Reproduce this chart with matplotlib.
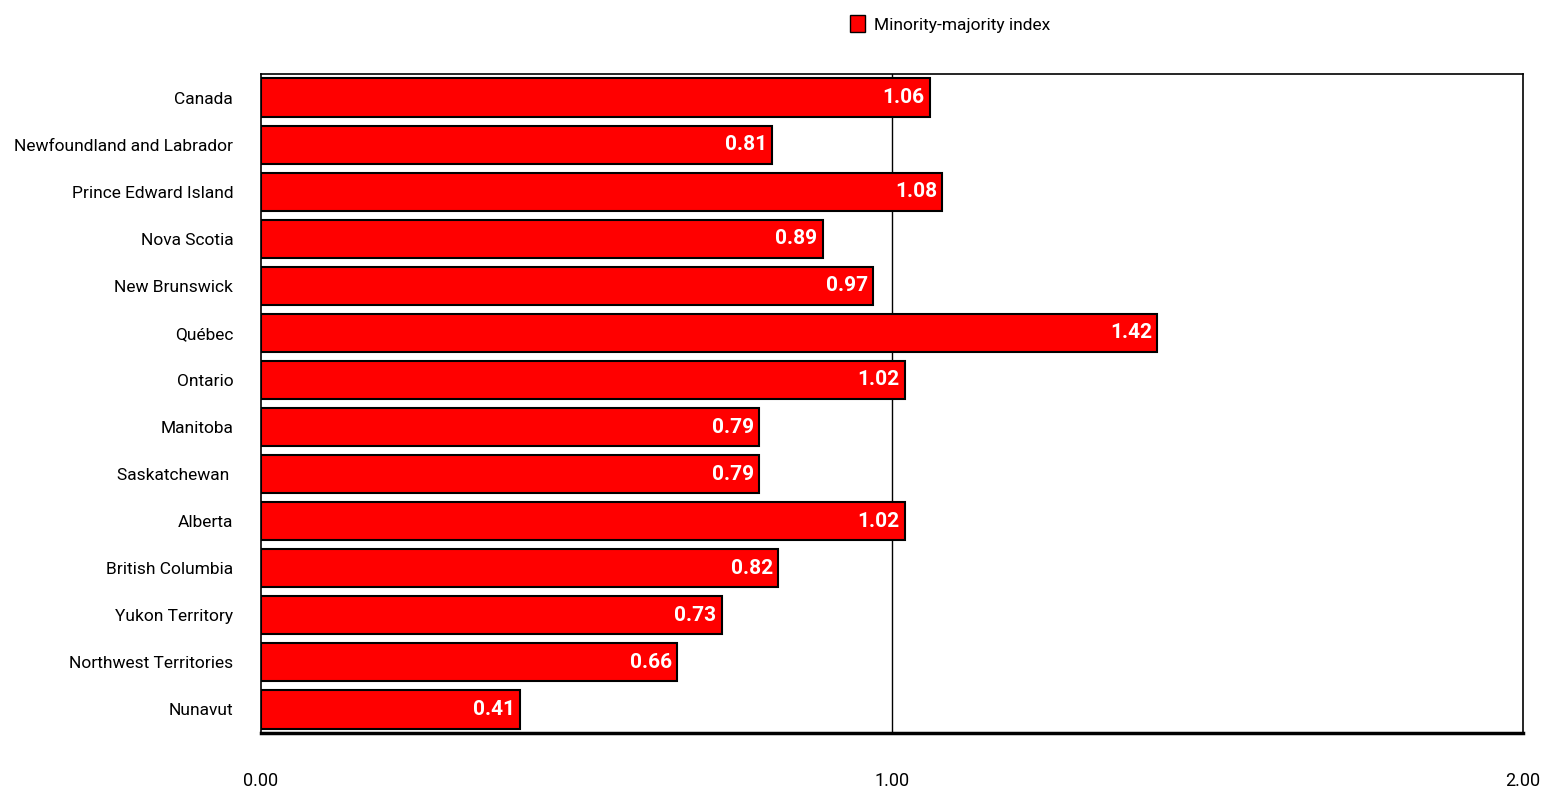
import matplotlib.pyplot as plt
from matplotlib.patches import Patch

regions = ["Canada", "Newfoundland and Labrador", "Prince Edward Island", "Nova Scotia",
           "New Brunswick", "Québec", "Ontario", "Manitoba", "Saskatchewan ", "Alberta",
           "British Columbia", "Yukon Territory", "Northwest Territories", "Nunavut"]
index_values = [1.06, 0.81, 1.08, 0.89, 0.97, 1.42, 1.02, 0.79, 0.79, 1.02, 0.82, 0.73, 0.66, 0.41]
xticks = [0.0, 1.0, 2.0]
xtick_labels = ["0.00", "1.00", "2.00"]

plt.rcParams['font.family'] = ['Roboto', 'DejaVu Sans']

fig = plt.figure(figsize=(15.47, 7.92), dpi=100)
ax = fig.add_axes([261 / 1547, 1 - 733 / 792, (1523 - 261) / 1547, (733 - 74) / 792])

y = list(range(len(regions)))
bars = ax.barh(y, index_values, height=0.81, color="#ff0000", edgecolor="black", linewidth=1.5, zorder=3)
ax.axvline(1.0, color="black", linewidth=1, zorder=1)

for b, v in zip(bars, index_values):
    ax.text(v - 0.008, b.get_y() + b.get_height() / 2, f"{v:.2f}", color="white",
            fontsize=15, fontweight="bold", ha="right", va="center", zorder=4)

ax.set_xlim(0, 2.0)
ax.set_ylim(len(regions) - 0.5, -0.5)
ax.set_yticks(y)
ax.set_yticklabels(regions, fontsize=12.5)
ax.set_xticks(xticks)
ax.set_xticklabels(xtick_labels, fontsize=13)
ax.tick_params(axis="both", length=0)
ax.tick_params(axis="x", pad=28)
ax.tick_params(axis="y", pad=20)
for s in ax.spines.values():
    s.set_linewidth(1.2)
ax.spines["bottom"].set_linewidth(2.5)

fig.legend(handles=[Patch(facecolor="#ff0000", edgecolor="black", label="Minority-majority index")],
           loc="center", bbox_to_anchor=(950 / 1547, 1 - 24 / 792), frameon=False, fontsize=12.5,
           handlelength=0.9, handleheight=1.1, handletextpad=0.5)

fig.savefig("out.png", dpi=100)
